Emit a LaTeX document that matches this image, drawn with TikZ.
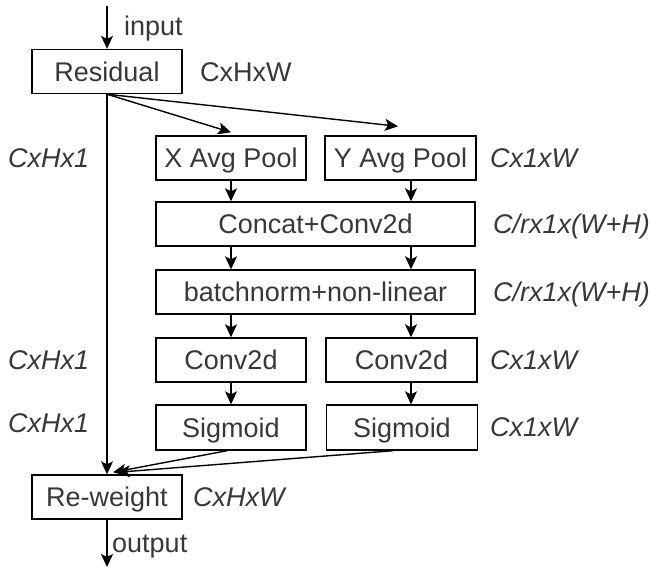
\documentclass[tikz,border=0pt]{standalone}
\usepackage{fontspec}
\setmainfont{Liberation Sans}
\usetikzlibrary{arrows.meta}
\begin{document}
\begin{tikzpicture}[x=1pt,y=-1pt,
  every node/.style={font=\fontsize{27}{32}\selectfont, text=black!78},
  blk/.style={draw=black, line width=1.4pt, rectangle, inner sep=0pt,
              text height=19.3pt, text depth=0pt, minimum height=44pt},
  lbl/.style={inner sep=0pt, text height=19.3pt, text depth=0pt, anchor=west},
  dim/.style={lbl, font=\fontsize{27}{32}\selectfont\itshape},
  flow/.style={line width=1.4pt, draw=black, -{Stealth[length=13pt,width=12pt,inset=3pt]}}]

\fill[white] (0,0) rectangle (650,568);
\useasboundingbox (0,0) rectangle (650,568);

% processing blocks
\node[blk, minimum width=150pt] (res) at (107,71.5) {Residual};
\node[blk, minimum width=150pt] (xp)  at (231,158) {X Avg Pool};
\node[blk, minimum width=151pt] (yp)  at (400.5,158) {Y Avg Pool};
\node[blk, minimum width=319pt] (cat) at (315.5,224) {Concat+Conv2d};
\node[blk, minimum width=319pt] (bn)  at (315.5,292) {batchnorm+non-linear};
\node[blk, minimum width=150pt] (cvl) at (231,360) {Conv2d};
\node[blk, minimum width=151pt] (cvr) at (401.5,360) {Conv2d};
\node[blk, minimum width=150pt, minimum height=45pt] (sgl) at (231,427.5) {Sigmoid};
\node[blk, minimum width=151pt, minimum height=45pt] (sgr) at (402,427.5) {Sigmoid};
\node[blk, minimum width=150pt] (rw)  at (107,497) {Re-weight};

% tensor shapes
\node[lbl] (sres) at (200,72) {CxHxW};
\node[dim] (sxp)  at (8,158) {CxHx1};
\node[dim] (syp)  at (490,158) {Cx1xW};
\node[dim] (scat) at (493,224) {C/rx1x(W+H)};
\node[dim] (sbn)  at (493,292) {C/rx1x(W+H)};
\node[dim] (scvl) at (8,360) {CxHx1};
\node[dim] (scvr) at (490,360) {Cx1xW};
\node[dim] (ssgl) at (8,423) {CxHx1};
\node[dim] (ssgr) at (490,427) {Cx1xW};
\node[dim] (srw)  at (193,497) {CxHxW};

% input / output
\coordinate (in)  at (107,6);
\coordinate (out) at (107,567);
\node[inner sep=0pt, anchor=base west] (lin)  at (124,35) {input};
\node[inner sep=0pt, anchor=base west] (lout) at (112,552) {output};

% column of the right-hand branch
\coordinate (rx) at (411,0);

\draw[flow] (in) -- (res.north);
\draw[flow] (res.south) -- ([yshift=3pt]xp.north);
\draw[flow] (res.south) -- ([xshift=-2.5pt,yshift=9pt]yp.north);
\draw[flow] (res.south) -- (rw.north);

\draw[flow] (xp.south) -- (cat.north -| xp.south);
\draw[flow] (yp.south -| rx) -- (cat.north -| rx);
\draw[flow] (cat.south -| xp.south) -- (bn.north -| xp.south);
\draw[flow] (cat.south -| rx) -- (bn.north -| rx);
\draw[flow] (bn.south -| cvl.north) -- (cvl.north);
\draw[flow] (bn.south -| rx) -- (cvr.north -| rx);
\draw[flow] (cvl.south) -- (sgl.north);
\draw[flow] (cvr.south -| rx) -- (sgr.north -| rx);

\draw[flow] ([xshift=-4pt]sgl.south) -- ([xshift=6pt,yshift=2pt]rw.north);
\draw[flow] ([xshift=-9pt]sgr.south) -- ([xshift=10pt,yshift=2pt]rw.north);

\draw[flow] (rw.south) -- (out);
\end{tikzpicture}
\end{document}
